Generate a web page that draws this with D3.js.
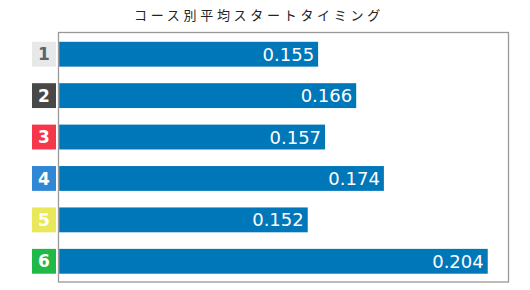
<!DOCTYPE html>
<html>
<head>
<meta charset="utf-8">
<script src="https://cdn.jsdelivr.net/npm/d3@7"></script>
<style>
  body { margin: 0; background: #fff; }
  svg { display: block; }
</style>
</head>
<body>
<script>
const courses = ['1', '2', '3', '4', '5', '6']
const avgST = [0.155, 0.166, 0.157, 0.174, 0.152, 0.204]
const courseFill = ['#e8e8e8', '#484848', '#f5364b', '#2f87d6', '#e9e85a', '#1fb947']
const courseText = ['#5a6470', '#fff', '#fff', '#fff', '#fff', '#fff']
const title = 'コース別平均スタートタイミング'

const width = 530
const height = 290
const margin = { top: 32.5, right: 21.5, bottom: 8, left: 58.5 }

const svg = d3.select('body').append('svg')
  .attr('width', width)
  .attr('height', height)

const x = d3.scaleLinear()
  .domain([0.08, 0.21])
  .range([margin.left, width - margin.right])

const y = d3.scaleBand()
  .domain(courses)
  .range([margin.top + 1, height - margin.bottom])
  .paddingInner(0.4)
  .paddingOuter(0.2)

// title
svg.append('text')
  .attr('x', 259)
  .attr('y', 20)
  .attr('text-anchor', 'middle')
  .attr('font-family', 'Noto Sans CJK JP')
  .attr('font-size', 13)
  .attr('letter-spacing', 3.7)
  .attr('fill', '#222')
  .text(title)

// frame
svg.append('rect')
  .attr('x', margin.left)
  .attr('y', margin.top)
  .attr('width', width - margin.left - margin.right)
  .attr('height', height - margin.top - margin.bottom)
  .attr('fill', 'none')
  .attr('stroke', '#999')
  .attr('stroke-width', 1.3)

const rows = courses.map((c, i) => ({ course: c, value: avgST[i], fill: courseFill[i], color: courseText[i] }))

// bars
svg.selectAll('.bar')
  .data(rows)
  .join('rect')
  .attr('class', 'bar')
  .attr('x', margin.left + 0.7)
  .attr('y', d => y(d.course))
  .attr('width', d => x(d.value) - margin.left - 0.7)
  .attr('height', y.bandwidth())
  .attr('fill', '#0077b9')

svg.selectAll('.val')
  .data(rows)
  .join('text')
  .attr('class', 'val')
  .attr('x', d => x(d.value) - 4)
  .attr('y', d => y(d.course) + y.bandwidth() / 2)
  .attr('dy', '0.36em')
  .attr('text-anchor', 'end')
  .attr('font-family', 'DejaVu Sans')
  .attr('font-size', 18)
  .attr('fill', '#fff')
  .text(d => d.value.toFixed(3))

// course badges
svg.selectAll('.badge')
  .data(rows)
  .join('rect')
  .attr('class', 'badge')
  .attr('x', 32)
  .attr('y', d => y(d.course))
  .attr('width', 24)
  .attr('height', y.bandwidth())
  .attr('fill', d => d.fill)

svg.selectAll('.num')
  .data(rows)
  .join('text')
  .attr('class', 'num')
  .attr('x', 44)
  .attr('y', d => y(d.course) + y.bandwidth() / 2)
  .attr('dy', '0.36em')
  .attr('text-anchor', 'middle')
  .attr('font-family', 'DejaVu Sans')
  .attr('font-weight', 'bold')
  .attr('font-size', 17)
  .attr('fill', d => d.color)
  .text(d => d.course)
</script>
</body>
</html>
